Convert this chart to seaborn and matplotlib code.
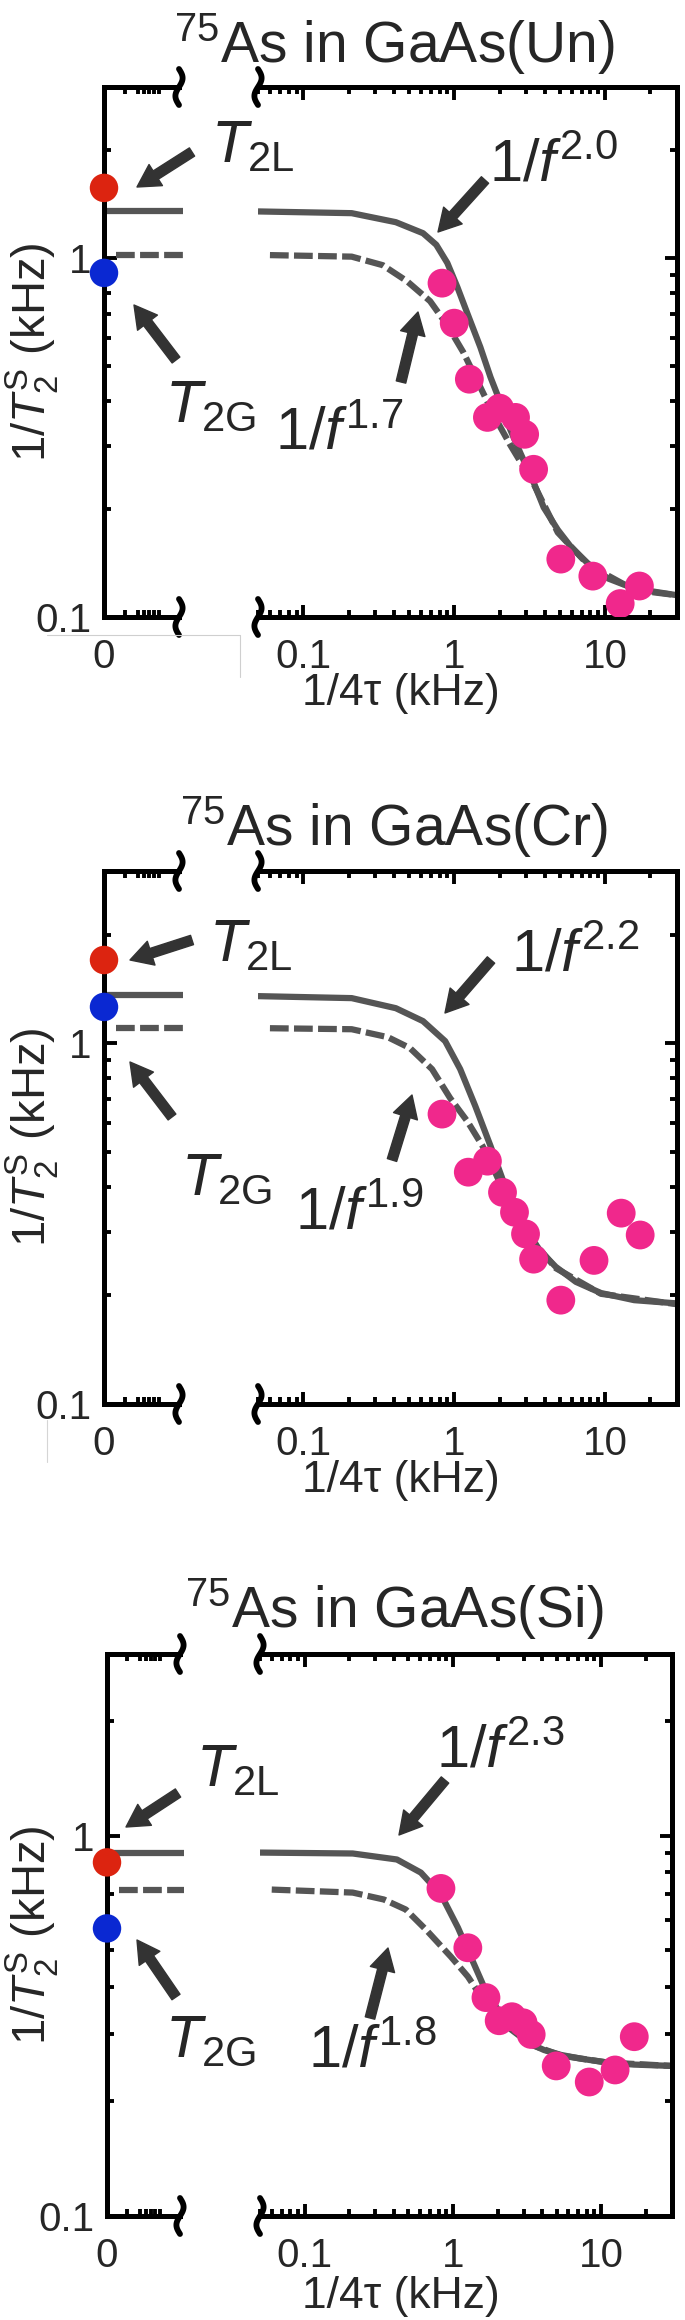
import numpy as np
import matplotlib
matplotlib.use("Agg")
import matplotlib.pyplot as plt
import seaborn as sns
from matplotlib.lines import Line2D
from matplotlib.ticker import LogLocator, NullFormatter

# ---------------- data ----------------
samples = ["Un", "Cr", "Si"]
exp_solid = ["2.0", "2.2", "2.3"]
exp_dashed = ["1.7", "1.9", "1.8"]

# values at 1/4tau = 0 (left stub)
t2l_rate = [1.57, 1.70, 0.85]
t2g_rate = [0.91, 1.26, 0.57]
plateau_solid = [1.35, 1.36, 0.90]
plateau_dashed = [1.02, 1.10, 0.72]

# measured points (1/4tau in kHz, 1/T2S in kHz)
un_f = [0.83, 1.0, 1.26, 1.66, 2.0, 2.55, 2.93, 3.36, 5.09, 8.3, 12.6, 16.9]
un_r = [0.852, 0.659, 0.46, 0.36, 0.382, 0.36, 0.323, 0.258, 0.145, 0.13, 0.109, 0.122]
cr_f = [0.83, 1.24, 1.66, 2.09, 2.51, 2.97, 3.36, 5.09, 8.45, 12.8, 17.1]
cr_r = [0.636, 0.439, 0.471, 0.386, 0.34, 0.296, 0.252, 0.194, 0.25, 0.338, 0.294]
si_f = [0.83, 1.26, 1.67, 2.05, 2.5, 2.97, 3.37, 4.97, 8.3, 12.4, 16.7]
si_r = [0.726, 0.507, 0.375, 0.326, 0.334, 0.322, 0.30, 0.248, 0.225, 0.242, 0.296]

# fitted curves, solid and dashed
un_solid_f = [0.05, 0.209, 0.41, 0.621, 0.76, 0.9, 1.05, 1.22, 1.49, 1.74, 2.03, 2.36, 2.75, 3.31, 3.92, 4.86, 5.93, 7.7, 10.5, 15.6, 30]
un_solid_r = [1.35, 1.335, 1.26, 1.174, 1.09, 0.97, 0.83, 0.703, 0.565, 0.466, 0.395, 0.332, 0.286, 0.241, 0.202, 0.175, 0.157, 0.141, 0.128, 0.12, 0.115]
un_dash_f = [0.06, 0.209, 0.336, 0.486, 0.692, 0.898, 1.148, 1.49, 1.876, 2.36, 3.31, 4.86, 7.7, 15.6, 30]
un_dash_r = [1.02, 1.01, 0.956, 0.863, 0.759, 0.651, 0.547, 0.437, 0.358, 0.301, 0.238, 0.172, 0.14, 0.119, 0.115]

cr_solid_f = [0.05, 0.209, 0.41, 0.621, 0.871, 1.096, 1.38, 1.74, 2.09, 2.55, 3.07, 3.74, 4.71, 6.41, 9.4, 15.6, 30]
cr_solid_r = [1.35, 1.333, 1.25, 1.151, 1.013, 0.847, 0.669, 0.519, 0.42, 0.343, 0.298, 0.265, 0.24, 0.218, 0.203, 0.194, 0.19]
cr_dash_f = [0.06, 0.209, 0.363, 0.509, 0.713, 0.94, 1.22, 1.54, 1.88, 2.36, 3.07, 4.71, 9.4, 30]
cr_dash_r = [1.10, 1.093, 1.039, 0.969, 0.847, 0.704, 0.608, 0.519, 0.436, 0.353, 0.294, 0.238, 0.202, 0.189]

si_solid_f = [0.05, 0.211, 0.419, 0.608, 0.83, 1.08, 1.32, 1.62, 2.01, 2.47, 3.21, 4.12, 5.37, 7.33, 11.1, 16.7, 30]
si_solid_r = [0.902, 0.897, 0.865, 0.799, 0.70, 0.573, 0.48, 0.40, 0.348, 0.3125, 0.285, 0.273, 0.265, 0.259, 0.253, 0.25, 0.248]
si_dash_f = [0.06, 0.211, 0.342, 0.481, 0.657, 0.97, 1.26, 1.55, 1.95, 2.47, 3.37, 5.37, 11.1, 30]
si_dash_r = [0.721, 0.708, 0.679, 0.639, 0.566, 0.48, 0.426, 0.377, 0.338, 0.309, 0.282, 0.264, 0.253, 0.248]

points = [(un_f, un_r), (cr_f, cr_r), (si_f, si_r)]
solid = [(un_solid_f, un_solid_r), (cr_solid_f, cr_solid_r), (si_solid_f, si_solid_r)]
dashed = [(un_dash_f, un_dash_r), (cr_dash_f, cr_dash_r), (si_dash_f, si_dash_r)]

# ---------------- style / layout ----------------
sns.set_theme(style="ticks")
plt.rcParams['font.family'] = ['Liberation Sans', 'DejaVu Sans']
plt.rcParams['mathtext.fontset'] = 'custom'
plt.rcParams['mathtext.rm'] = 'Liberation Sans'
plt.rcParams['mathtext.it'] = 'Liberation Sans:italic'
plt.rcParams['mathtext.bf'] = 'Liberation Sans:bold'

PINK = '#f0288c'
RED = '#dc2410'
BLUE = '#0a28d2'
LINE = '#555555'
ARROW = '#333333'

W, H = 685, 2320
fig = plt.figure(figsize=(W / 100, H / 100), dpi=100)

# pixel boxes of the panels (from top-left of the image)
layout = [
    dict(top=87, bottom=617, lx0=104, lx1=179, rx0=258, rx1=677, title_y=62, xlabel_y=705),
    dict(top=871, bottom=1404, lx0=104, lx1=179, rx0=258, rx1=677, title_y=845, xlabel_y=1492),
    dict(top=1654, bottom=2216, lx0=107, lx1=180, rx0=260, rx1=672, title_y=1627, xlabel_y=2308),
]
t2l_txt = [(211, 163), (209, 962), (196, 1787)]
t2g_txt = [(165, 422), (181, 1195), (165, 2057)]
fs_txt = [(489, 182), (511, 972), (436, 1768)]
fd_txt = [(275, 450), (295, 1230), (308, 2068)]
# arrows: (tail, head)
arr_t2l = [((192, 152), (137, 187)), ((192, 940), (130, 960)), ((178, 1793), (126, 1827))]
arr_t2g = [((176, 360), (134, 305)), ((172, 1117), (130, 1062)), ((176, 1997), (137, 1940))]
arr_fs = [((485, 180), (438, 232)), ((491, 960), (445, 1013)), ((445, 1780), (399, 1835))]
arr_fd = [((401, 382), (418, 312)), ((392, 1160), (412, 1095)), ((370, 2018), (388, 1948))]


def rect(x0, x1, top, bottom):
    return [x0 / W, 1 - bottom / H, (x1 - x0) / W, (bottom - top) / H]


def fxy(x, y):
    return x / W, 1 - y / H


def break_mark(x, y):
    t = np.linspace(-1, 1, 40)
    xs = x - 3.6 * np.sin(np.pi * t)
    ys = y + 18 * t
    fig.add_artist(Line2D(xs / W, 1 - ys / H, color='black', lw=4.2,
                          solid_capstyle='round', transform=fig.transFigure))


def arrow(tail, head):
    fig.axes[0].annotate("", xy=(head[0], H - head[1]), xycoords='figure pixels',
                         xytext=(tail[0], H - tail[1]), textcoords='figure pixels',
                         arrowprops=dict(arrowstyle='simple,head_length=16,head_width=18,tail_width=7',
                                         mutation_scale=1, color=ARROW, shrinkA=0, shrinkB=0))


SPINE_LW = 3.6
TICK_FS = 29

for i, L in enumerate(layout):
    ax_l = fig.add_axes(rect(L['lx0'], L['lx1'], L['top'], L['bottom']))
    ax_r = fig.add_axes(rect(L['rx0'], L['rx1'], L['top'], L['bottom']))

    for ax in (ax_l, ax_r):
        ax.set_yscale('log')
        ax.set_ylim(0.1, 3.0)
        ax.set_facecolor('none')
        for s in ax.spines.values():
            s.set_linewidth(SPINE_LW)
            s.set_color('black')
        ax.tick_params(which='both', direction='in', color='black', width=2.8,
                       labelsize=TICK_FS, top=True)
        ax.tick_params(which='major', length=9)
        ax.tick_params(which='minor', length=5)
        ax.tick_params(axis='x', pad=15)
        ax.tick_params(axis='y', pad=9)

    ax_l.spines['right'].set_visible(False)
    ax_r.spines['left'].set_visible(False)

    # left stub (1/4tau = 0)
    ax_l.set_xlim(0, 1)
    ax_l.set_xticks([0], labels=['0'])
    ax_l.set_xticks([0.28, 0.45, 0.53, 0.6, 0.66, 0.73], minor=True)
    ax_l.set_yticks([0.1, 1], labels=['0.1', '1'])
    ax_l.yaxis.set_minor_locator(LogLocator(subs=np.arange(2, 10)))
    ax_l.yaxis.set_minor_formatter(NullFormatter())
    ax_l.tick_params(axis='y', which='both', left=True, right=False)

    ax_l.hlines(plateau_solid[i], -0.03, 1.06, color=LINE, lw=4.5, clip_on=False)
    ax_l.hlines(plateau_dashed[i], 0.16, 1.06, color=LINE, lw=4.5,
                linestyles=[(0, (3.0, 0.85))], clip_on=False)
    sns.scatterplot(x=[0], y=[t2l_rate[i]], ax=ax_l, color=RED, s=420,
                    edgecolor='none', clip_on=False, zorder=6)
    sns.scatterplot(x=[0], y=[t2g_rate[i]], ax=ax_l, color=BLUE, s=420,
                    edgecolor='none', clip_on=False, zorder=6)
    ax_l.set_xlabel('')
    ax_l.set_ylabel('')

    # right log part
    ax_r.set_xscale('log')
    ax_r.set_xlim(0.05, 30)
    ax_r.set_xticks([0.1, 1, 10], labels=['0.1', '1', '10'])
    ax_r.xaxis.set_minor_locator(LogLocator(subs=np.arange(2, 10)))
    ax_r.xaxis.set_minor_formatter(NullFormatter())
    ax_r.set_yticks([0.1, 1], labels=['', ''])
    ax_r.yaxis.set_minor_locator(LogLocator(subs=np.arange(2, 10)))
    ax_r.yaxis.set_minor_formatter(NullFormatter())
    ax_r.tick_params(axis='y', which='both', left=False, right=True,
                     labelleft=False, labelright=False)

    sns.lineplot(x=solid[i][0], y=solid[i][1], ax=ax_r, color=LINE, lw=4.5,
                 sort=False, estimator=None)
    sns.lineplot(x=dashed[i][0], y=dashed[i][1], ax=ax_r, color=LINE, lw=4.5,
                 sort=False, estimator=None)
    ax_r.lines[-1].set_linestyle((0, (3.0, 0.85)))
    for ln in ax_r.lines:
        ln.set_solid_capstyle('butt')
        ln.set_dash_capstyle('butt')
        ln.set_solid_joinstyle('round')
    sns.scatterplot(x=points[i][0], y=points[i][1], ax=ax_r, color=PINK, s=430,
                    edgecolor='none', zorder=5)
    ax_r.set_xlabel('')
    ax_r.set_ylabel('')

    # break marks
    for x in (L['lx1'], L['rx0']):
        for y in (L['top'], L['bottom']):
            break_mark(x, y)

    # texts
    fig.text(*fxy(394, L['title_y']), r"$^{75}$As in GaAs(" + samples[i] + ")",
             ha='center', va='baseline', fontsize=41)
    fig.text(*fxy(401, L['xlabel_y']), "1/4\u03c4 (kHz)", ha='center', va='baseline', fontsize=32)
    fig.text(*fxy(32, (L['top'] + L['bottom']) / 2), r"1/$T_2^{\rm S}$ (kHz)",
             rotation=90, ha='center', va='center', fontsize=34)
    fig.text(*fxy(*t2l_txt[i]), r"$T_{\rm 2L}$", ha='left', va='baseline', fontsize=43)
    fig.text(*fxy(*t2g_txt[i]), r"$T_{\rm 2G}$", ha='left', va='baseline', fontsize=43)
    fig.text(*fxy(*fs_txt[i]), r"1/$f^{\rm " + exp_solid[i] + "}$", ha='left', va='baseline', fontsize=43)
    fig.text(*fxy(*fd_txt[i]), r"1/$f^{\rm " + exp_dashed[i] + "}$", ha='left', va='baseline', fontsize=43)

for k in range(3):
    for tail, head in (arr_t2l[k], arr_t2g[k], arr_fs[k], arr_fd[k]):
        arrow(tail, head)

# faint frame remnants seen in the original image
fig.add_artist(Line2D(np.array([47, 240, 240]) / W, 1 - np.array([635, 635, 677]) / H,
                      color='#cfcfcf', lw=0.8, transform=fig.transFigure))
fig.add_artist(Line2D(np.array([47, 47]) / W, 1 - np.array([1420, 1462]) / H,
                      color='#d5d5d5', lw=0.8, transform=fig.transFigure))

fig.savefig('out.png', dpi=100)
